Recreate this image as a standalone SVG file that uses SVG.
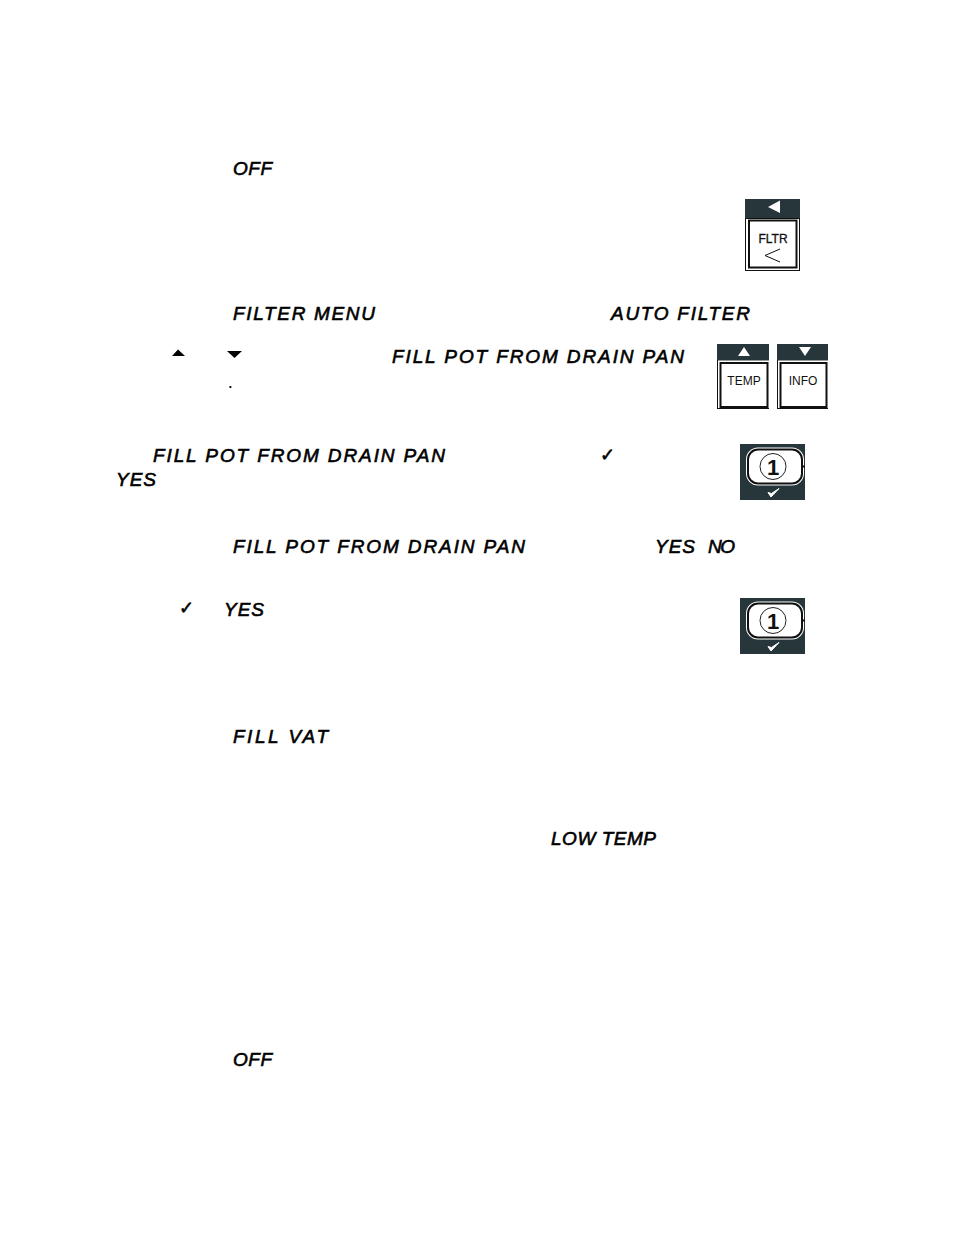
<svg xmlns="http://www.w3.org/2000/svg" xmlns:xlink="http://www.w3.org/1999/xlink" width="954" height="1235" viewBox="0 0 954 1235">
<style>
.lcd{font-family:"Liberation Sans",Arial,sans-serif;font-style:italic;font-size:19px;fill:#000;stroke:#000;stroke-width:.6px}
.key{font-family:"Liberation Sans",Arial,sans-serif;font-size:12px;fill:#111;text-anchor:middle}
.chk{font-family:"DejaVu Sans",sans-serif;font-size:18px;fill:#000;stroke:#000;stroke-width:.6px}
.band{fill:#26363b}
.ln{fill:none;stroke:#111}
</style>
<defs>
<g id="one">
<rect x="0" y="0" width="65" height="56" fill="#26363b"/>
<rect x="6" y="3.500" width="58" height="38" rx="12" fill="#fff"/>
<rect x="8" y="5.500" width="54" height="34" rx="10" fill="#fff" stroke="#111" stroke-width="2"/>
<path d="M62 22.500H65" stroke="#111" stroke-width="2"/>
<circle cx="33" cy="22.500" r="13" fill="#fff" stroke="#222" stroke-width="1"/>
<text x="33" y="30.500" font-family="'Liberation Sans',sans-serif" font-size="22" font-weight="bold" text-anchor="middle" fill="#111">1</text>
<path d="M28 48.500L31 53L39 44.500L31.500 49.500Z" fill="#fff" stroke="#fff" stroke-width="1"/>
</g>
</defs>
<rect width="954" height="1235" fill="#fff"/>

<text class="lcd" x="233" y="175" textLength="39" lengthAdjust="spacing">OFF</text>
<text class="lcd" x="233" y="320" textLength="142" lengthAdjust="spacing">FILTER MENU</text>
<text class="lcd" x="611" y="320" textLength="139" lengthAdjust="spacing">AUTO FILTER</text>
<text class="lcd" x="392" y="363" textLength="292" lengthAdjust="spacing">FILL POT FROM DRAIN PAN</text>
<text class="lcd" x="153" y="462" textLength="292" lengthAdjust="spacing">FILL POT FROM DRAIN PAN</text>
<text class="lcd" x="116" y="486" textLength="40" lengthAdjust="spacing">YES</text>
<text class="lcd" x="233" y="553" textLength="292" lengthAdjust="spacing">FILL POT FROM DRAIN PAN</text>
<text class="lcd" x="655" y="553" textLength="40" lengthAdjust="spacing">YES</text>
<text class="lcd" x="708" y="553" textLength="27" lengthAdjust="spacing">NO</text>
<text class="lcd" x="224" y="616" textLength="40" lengthAdjust="spacing">YES</text>
<text class="lcd" x="233" y="743" textLength="95" lengthAdjust="spacing">FILL VAT</text>
<text class="lcd" x="551" y="845" textLength="105" lengthAdjust="spacing">LOW TEMP</text>
<text class="lcd" x="233" y="1066" textLength="39" lengthAdjust="spacing">OFF</text>

<polygon points="178,349.500 185,356 172,356" fill="#000"/>
<polygon points="227,351 242,351 234.500,358" fill="#000"/>
<text x="228.500" y="388" font-family="'Liberation Sans',sans-serif" font-size="13" font-weight="bold" fill="#000">.</text>
<text class="chk" x="600" y="461">✓</text>
<text class="chk" x="179" y="614">✓</text>

<g id="key-fltr">
<rect class="band" x="745" y="199" width="55" height="19"/>
<polygon points="780,200.500 780,213 768,207" fill="#fff"/>
<rect class="ln" x="745.500" y="218.500" width="54" height="52" stroke-width="1"/>
<rect class="ln" x="749" y="220.500" width="47.500" height="47" stroke-width="2"/>
<text class="key" x="773" y="243" font-size="11" stroke="#111" stroke-width=".3">FLTR</text>
<path class="ln" d="M780 249L765 255.500L780 262" stroke-width="1"/>
</g>
<g id="key-temp">
<rect class="band" x="717" y="344" width="52" height="16.500"/>
<polygon points="744,347 750,356 738,356" fill="#fff"/>
<path class="ln" d="M717.500 360V409M717 408.500H769"/>
<rect class="ln" x="720.500" y="363" width="47" height="44" stroke-width="2"/>
<text class="key" x="744" y="385">TEMP</text>
</g>
<g id="key-info">
<rect class="band" x="777" y="344" width="51" height="16.500"/>
<polygon points="799,347 811,347 805,356" fill="#fff"/>
<path class="ln" d="M777.500 360V409M777 408.500H828"/>
<rect class="ln" x="780.500" y="363" width="46" height="44" stroke-width="2"/>
<text class="key" x="803" y="385">INFO</text>
</g>
<use id="key-one-a" href="#one" x="740" y="444"/>
<use id="key-one-b" href="#one" x="740" y="598"/>
</svg>
